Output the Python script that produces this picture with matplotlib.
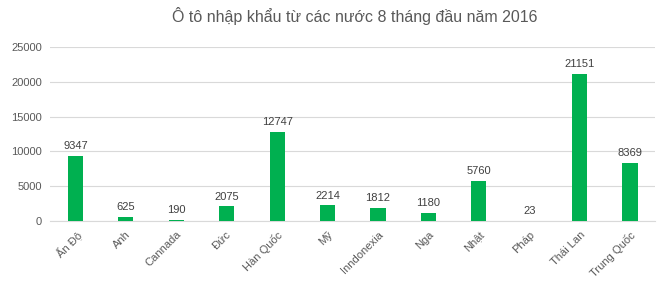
import matplotlib
matplotlib.use("Agg")
import matplotlib.pyplot as plt

countries = ["Ấn Độ", "Anh", "Cannada", "Đức", "Hàn Quốc", "Mỹ", "Inndonexia",
             "Nga", "Nhật", "Pháp", "Thái Lan", "Trung Quốc"]
cars = [9347, 625, 190, 2075, 12747, 2214, 1812, 1180, 5760, 23, 21151, 8369]
yticks = [0, 5000, 10000, 15000, 20000, 25000]

plt.rcParams['font.family'] = ['Liberation Sans', 'DejaVu Sans']
grey = '#595959'

fig = plt.figure(figsize=(6.7, 2.88), dpi=100)
ax = fig.add_axes([0.075, 0.233, 0.903, 0.604])

x = range(len(countries))
bars = ax.bar(x, cars, width=0.3, color='#00B050', zorder=3)
for xi, v in zip(x, cars):
    ax.text(xi, v + 700, str(v), ha='center', va='bottom', fontsize=8, color='#404040')

ax.set_xlim(-0.5, len(countries) - 0.5)
ax.set_ylim(0, 25000)
ax.set_yticks(yticks)
ax.set_yticklabels([str(t) for t in yticks], fontsize=8, color=grey)
ax.set_xticks(list(x))
ax.set_xticklabels(countries, rotation=45, ha='right', rotation_mode='anchor',
                   fontsize=8, color=grey)
ax.tick_params(length=0, pad=6)
ax.grid(axis='y', color='#D9D9D9', linewidth=0.8, zorder=0)
for s in ['top', 'right', 'left']:
    ax.spines[s].set_visible(False)
ax.spines['bottom'].set_color('#D9D9D9')

fig.suptitle("Ô tô nhập khẩu từ các nước 8 tháng đầu năm 2016", x=0.53, y=0.975,
             fontsize=11.5, color=grey)

fig.savefig("out.png", dpi=100)
